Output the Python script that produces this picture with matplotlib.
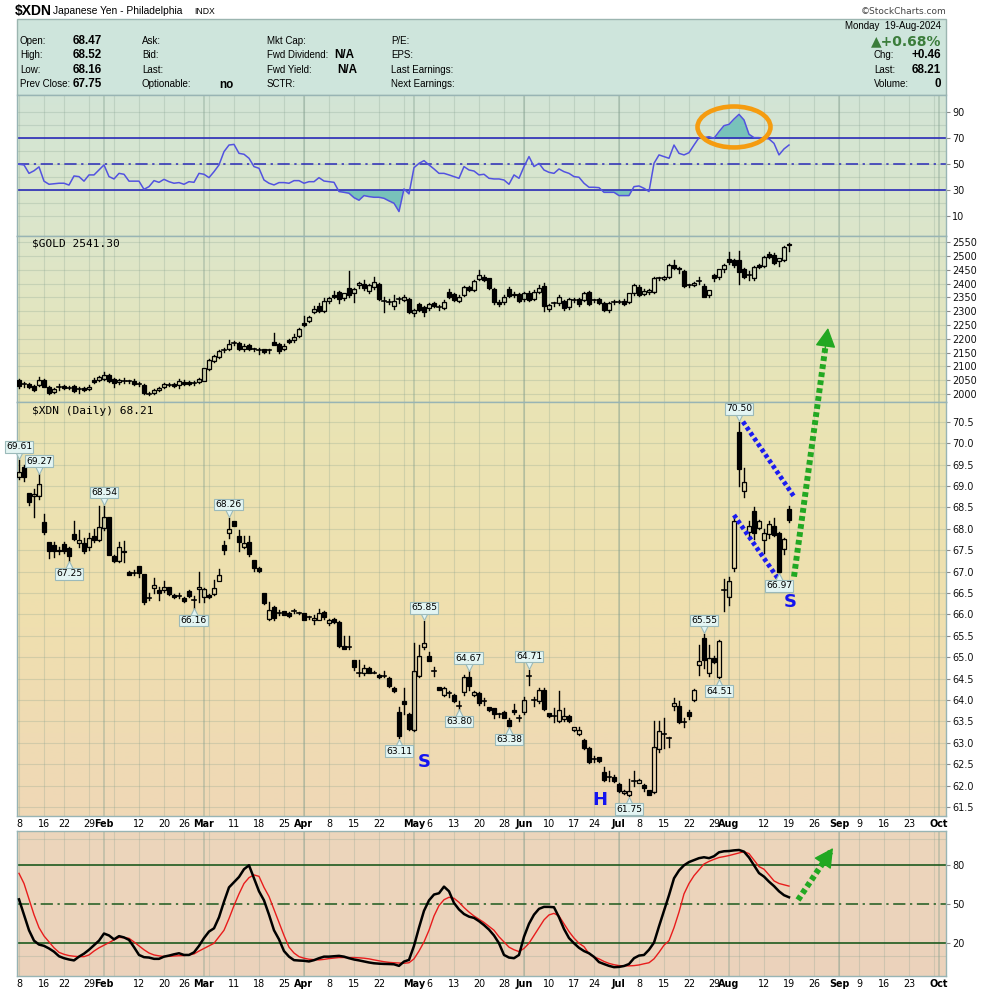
import numpy as np
import pandas as pd
import matplotlib
matplotlib.use('Agg')
import matplotlib.pyplot as plt
from matplotlib.patches import Rectangle, Ellipse
from matplotlib.colors import to_rgb
from matplotlib.transforms import offset_copy

plt.rcParams['font.family'] = ['DejaVu Sans']

# trading calendar (NYSE holidays skipped)
holidays = pd.to_datetime(['2024-01-15', '2024-02-19', '2024-03-29', '2024-05-27',
                           '2024-06-19', '2024-07-04', '2024-09-02'])
days = pd.bdate_range('2024-01-08', '2024-10-04')
days = days[~days.isin(holidays)]

tick_dates = ['2024-01-08', '2024-01-16', '2024-01-22', '2024-01-29', '2024-02-01', '2024-02-12',
              '2024-02-20', '2024-02-26', '2024-03-01', '2024-03-11', '2024-03-18', '2024-03-25',
              '2024-04-01', '2024-04-08', '2024-04-15', '2024-04-22', '2024-05-01', '2024-05-06',
              '2024-05-13', '2024-05-20', '2024-05-28', '2024-06-03', '2024-06-10', '2024-06-17',
              '2024-06-24', '2024-07-01', '2024-07-08', '2024-07-15', '2024-07-22', '2024-07-29',
              '2024-08-01', '2024-08-12', '2024-08-19', '2024-08-26', '2024-09-03', '2024-09-09',
              '2024-09-16', '2024-09-23', '2024-10-01']
tick_text = ['8', '16', '22', '29', 'Feb', '12', '20', '26', 'Mar', '11', '18', '25',
             'Apr', '8', '15', '22', 'May', '6', '13', '20', '28', 'Jun', '10', '17',
             '24', 'Jul', '8', '15', '22', '29', 'Aug', '12', '19', '26', 'Sep', '9',
             '16', '23', 'Oct']

# $XDN daily candles, Jan 8 - Aug 19 2024
xdn_open = [69.20, 69.44, 68.83, 68.77, 68.77, 68.15, 67.68, 67.62, 67.51, 67.65,
            67.54, 67.87, 67.66, 67.66, 67.57, 67.82, 67.74, 68.01, 68.27, 67.37,
            67.24, 67.48, 67.00, 66.97, 67.12, 66.95, 66.38, 66.61, 66.56, 66.56,
            66.65, 66.46, 66.43, 66.39, 66.55, 66.34, 66.60, 66.40, 66.46, 66.47,
            66.79, 67.62, 67.89, 68.17, 67.82, 67.57, 67.68, 67.26, 67.09, 66.49,
            65.90, 66.17, 66.03, 66.07, 66.04, 66.09, 66.03, 66.03, 65.93, 65.87,
            65.87, 66.05, 65.79, 65.88, 65.83, 65.26, 65.25, 64.94, 64.63, 64.64,
            64.74, 64.64, 64.59, 64.56, 64.51, 64.28, 63.72, 63.98, 63.68, 63.29,
            64.56, 65.23, 65.02, 64.69, 64.30, 64.12, 64.16, 64.12, 63.87, 64.18,
            64.53, 64.11, 64.16, 63.98, 63.83, 63.81, 63.67, 63.73, 63.54, 63.77,
            63.58, 63.71, 64.55, 64.00, 63.98, 64.24, 63.69, 63.62, 63.50, 63.55,
            63.63, 63.30, 63.21, 63.07, 62.88, 62.62, 62.66, 62.31, 62.21, 62.21,
            62.04, 61.83, 61.78, 62.10, 62.06, 62.02, 61.89, 61.84, 62.85, 63.21,
            63.11, 63.85, 63.87, 63.48, 63.72, 64.01, 64.81, 65.44, 64.64, 64.98,
            64.53, 66.57, 66.40, 67.08, 70.25, 68.88, 67.92, 68.42, 68.01, 67.74,
            67.87, 68.07, 67.91, 67.52, 68.47]
xdn_high = [69.61, 69.49, 68.84, 68.92, 69.27, 68.35, 67.70, 67.70, 67.58, 67.70,
            67.58, 68.18, 67.97, 67.78, 67.89, 67.99, 68.52, 68.54, 68.28, 67.38,
            67.68, 67.71, 67.01, 67.04, 67.14, 66.95, 66.49, 66.84, 66.63, 66.77,
            66.65, 66.47, 66.51, 66.41, 66.56, 66.42, 67.00, 66.61, 66.48, 66.81,
            67.06, 67.72, 68.26, 68.17, 67.97, 67.82, 67.82, 67.27, 67.10, 66.51,
            66.30, 66.20, 66.10, 66.08, 66.05, 66.12, 66.05, 66.04, 65.97, 65.99,
            66.12, 66.07, 65.89, 65.92, 65.85, 65.50, 65.50, 64.94, 64.94, 64.82,
            64.76, 64.67, 64.60, 64.67, 64.53, 64.30, 63.83, 64.28, 63.70, 65.33,
            65.29, 65.85, 65.13, 64.78, 64.31, 64.30, 64.20, 64.13, 63.97, 64.59,
            64.67, 64.20, 64.18, 64.04, 63.84, 63.81, 63.70, 63.74, 63.58, 63.91,
            63.65, 64.08, 64.71, 64.07, 64.28, 64.27, 63.70, 63.81, 64.20, 63.81,
            63.65, 63.38, 63.38, 63.09, 62.89, 62.70, 62.67, 62.43, 62.33, 62.24,
            62.06, 61.90, 62.15, 62.33, 62.16, 62.04, 61.90, 63.50, 63.52, 63.58,
            63.13, 64.04, 63.97, 63.58, 63.77, 64.25, 65.29, 65.55, 65.29, 65.02,
            65.39, 66.83, 66.87, 68.24, 70.50, 69.41, 68.17, 68.50, 68.21, 67.99,
            68.19, 68.24, 67.93, 67.78, 68.52]
xdn_low = [69.16, 69.12, 68.56, 68.28, 68.69, 67.88, 67.31, 67.35, 67.41, 67.43,
           67.25, 67.74, 67.58, 67.44, 67.51, 67.70, 67.72, 67.96, 67.38, 67.23,
           67.22, 67.23, 66.91, 66.91, 66.88, 66.24, 66.34, 66.49, 66.34, 66.53,
           66.46, 66.39, 66.38, 66.28, 66.41, 66.16, 66.30, 66.30, 66.38, 66.46,
           66.77, 67.41, 67.78, 68.06, 67.47, 67.55, 67.37, 67.02, 67.00, 66.24,
           65.87, 65.87, 65.99, 65.98, 65.93, 66.03, 66.01, 65.86, 65.89, 65.78,
           65.86, 65.90, 65.76, 65.80, 65.23, 65.19, 65.19, 64.70, 64.56, 64.59,
           64.62, 64.62, 64.52, 64.53, 64.31, 64.19, 63.11, 63.68, 63.30, 63.27,
           64.53, 65.19, 64.90, 64.57, 64.23, 64.10, 64.08, 63.95, 63.80, 64.12,
           64.24, 64.10, 63.89, 63.89, 63.75, 63.58, 63.60, 63.58, 63.38, 63.68,
           63.50, 63.68, 64.36, 63.85, 63.93, 63.77, 63.61, 63.48, 63.48, 63.51,
           63.48, 63.28, 63.19, 62.86, 62.53, 62.54, 62.56, 62.10, 62.10, 62.08,
           61.84, 61.80, 61.75, 61.98, 62.05, 61.87, 61.78, 61.83, 62.78, 62.88,
           62.90, 63.76, 63.46, 63.37, 63.56, 63.97, 64.59, 64.74, 64.56, 64.86,
           64.51, 66.07, 66.22, 67.02, 69.00, 68.75, 67.82, 67.75, 67.99, 67.43,
           67.78, 67.82, 66.97, 67.41, 68.16]
xdn_close = [69.33, 69.20, 68.63, 68.80, 69.04, 67.92, 67.47, 67.47, 67.48, 67.49,
             67.37, 67.77, 67.74, 67.47, 67.78, 67.74, 68.05, 68.27, 67.39, 67.24,
             67.58, 67.45, 66.92, 66.96, 66.96, 66.28, 66.38, 66.69, 66.51, 66.63,
             66.48, 66.40, 66.43, 66.32, 66.42, 66.34, 66.65, 66.59, 66.40, 66.61,
             66.92, 67.51, 67.99, 68.07, 67.68, 67.66, 67.41, 67.09, 67.02, 66.26,
             66.09, 65.91, 66.02, 65.99, 65.95, 66.08, 66.02, 65.87, 65.94, 65.91,
             66.04, 65.93, 65.86, 65.83, 65.25, 65.20, 65.24, 64.78, 64.63, 64.74,
             64.63, 64.64, 64.53, 64.56, 64.33, 64.20, 63.15, 63.91, 63.32, 64.67,
             65.03, 65.33, 64.92, 64.68, 64.24, 64.28, 64.16, 63.97, 63.87, 64.53,
             64.32, 64.18, 63.94, 63.98, 63.76, 63.68, 63.67, 63.59, 63.40, 63.71,
             63.58, 63.99, 64.55, 64.00, 64.24, 63.79, 63.62, 63.62, 63.77, 63.62,
             63.51, 63.37, 63.30, 62.88, 62.55, 62.62, 62.57, 62.12, 62.20, 62.10,
             61.87, 61.88, 61.87, 62.10, 62.14, 61.94, 61.79, 62.90, 63.27, 63.21,
             63.11, 63.93, 63.48, 63.48, 63.62, 64.24, 64.90, 64.94, 64.98, 64.88,
             65.37, 66.57, 66.79, 68.19, 69.39, 69.08, 68.07, 67.89, 68.17, 67.89,
             68.10, 67.86, 66.99, 67.75, 68.21]

# $GOLD daily candles
gold_open = [2051, 2040, 2035, 2029, 2033, 2051, 2027, 2006, 2025, 2029,
             2024, 2029, 2017, 2021, 2018, 2051, 2051, 2054, 2069, 2054,
             2042, 2050, 2048, 2048, 2038, 2033, 2003, 2002, 2014, 2024,
             2034, 2036, 2033, 2045, 2045, 2040, 2045, 2048, 2091, 2121,
             2135, 2158, 2163, 2185, 2184, 2162, 2178, 2163, 2161, 2162,
             2158, 2187, 2181, 2163, 2196, 2196, 2212, 2256, 2266, 2296,
             2319, 2302, 2337, 2359, 2369, 2347, 2383, 2365, 2395, 2398,
             2373, 2389, 2398, 2337, 2335, 2320, 2345, 2341, 2343, 2292,
             2326, 2314, 2311, 2329, 2314, 2313, 2369, 2361, 2337, 2359,
             2389, 2377, 2417, 2425, 2419, 2380, 2335, 2332, 2380, 2362,
             2363, 2344, 2365, 2344, 2371, 2393, 2308, 2328, 2329, 2337,
             2314, 2341, 2344, 2341, 2369, 2341, 2344, 2329, 2305, 2333,
             2335, 2338, 2335, 2365, 2389, 2363, 2369, 2371, 2419, 2417,
             2425, 2468, 2458, 2446, 2395, 2395, 2410, 2393, 2359, 2431,
             2425, 2453, 2490, 2486, 2486, 2453, 2431, 2419, 2468, 2465,
             2506, 2504, 2483, 2486, 2545]
gold_high = [2053, 2045, 2040, 2034, 2062, 2054, 2030, 2021, 2037, 2033,
             2030, 2032, 2027, 2025, 2032, 2058, 2066, 2078, 2073, 2057,
             2054, 2058, 2052, 2053, 2042, 2036, 2008, 2018, 2027, 2040,
             2040, 2039, 2054, 2049, 2048, 2046, 2058, 2096, 2126, 2141,
             2160, 2168, 2196, 2194, 2188, 2180, 2181, 2168, 2168, 2165,
             2164, 2220, 2184, 2180, 2200, 2216, 2240, 2283, 2282, 2318,
             2330, 2347, 2352, 2372, 2373, 2368, 2446, 2383, 2405, 2413,
             2398, 2425, 2401, 2353, 2345, 2358, 2352, 2360, 2347, 2308,
             2330, 2318, 2330, 2335, 2322, 2340, 2381, 2365, 2358, 2393,
             2393, 2414, 2450, 2430, 2422, 2384, 2340, 2358, 2388, 2370,
             2367, 2370, 2372, 2376, 2396, 2402, 2328, 2334, 2358, 2341,
             2349, 2348, 2348, 2370, 2373, 2346, 2349, 2333, 2334, 2340,
             2342, 2343, 2368, 2400, 2394, 2380, 2382, 2424, 2424, 2428,
             2472, 2485, 2462, 2450, 2400, 2405, 2425, 2398, 2378, 2437,
             2455, 2471, 2516, 2490, 2518, 2458, 2446, 2466, 2472, 2502,
             2516, 2510, 2495, 2535, 2549]
gold_low = [2022, 2026, 2022, 2011, 2030, 2024, 2001, 2003, 2014, 2017,
            2018, 2009, 2003, 2012, 2015, 2040, 2048, 2050, 2044, 2027,
            2038, 2040, 2040, 2032, 2030, 2000, 1997, 1999, 2011, 2021,
            2028, 2026, 2020, 2033, 2032, 2033, 2041, 2046, 2088, 2117,
            2131, 2152, 2160, 2178, 2158, 2157, 2158, 2156, 2144, 2150,
            2150, 2176, 2150, 2158, 2184, 2189, 2208, 2246, 2262, 2293,
            2298, 2299, 2330, 2349, 2331, 2340, 2352, 2335, 2385, 2378,
            2365, 2382, 2340, 2298, 2326, 2310, 2330, 2336, 2292, 2284,
            2300, 2283, 2306, 2316, 2305, 2309, 2348, 2336, 2333, 2355,
            2372, 2372, 2413, 2408, 2381, 2326, 2320, 2325, 2352, 2350,
            2333, 2338, 2336, 2340, 2366, 2300, 2301, 2318, 2322, 2306,
            2310, 2335, 2318, 2336, 2321, 2333, 2325, 2300, 2299, 2328,
            2330, 2323, 2330, 2360, 2354, 2360, 2364, 2366, 2412, 2412,
            2420, 2452, 2438, 2388, 2388, 2390, 2398, 2350, 2353, 2409,
            2418, 2443, 2470, 2461, 2398, 2420, 2414, 2415, 2458, 2460,
            2494, 2470, 2463, 2482, 2519]
gold_close = [2030, 2038, 2027, 2014, 2051, 2027, 2005, 2018, 2027, 2021,
              2023, 2012, 2018, 2015, 2027, 2043, 2063, 2069, 2047, 2039,
              2051, 2048, 2046, 2035, 2036, 2002, 2001, 2014, 2023, 2036,
              2033, 2029, 2047, 2036, 2035, 2039, 2054, 2093, 2123, 2138,
              2156, 2160, 2180, 2186, 2163, 2175, 2163, 2162, 2160, 2154,
              2160, 2178, 2156, 2175, 2187, 2208, 2236, 2250, 2278, 2310,
              2302, 2338, 2347, 2352, 2344, 2365, 2359, 2381, 2401, 2383,
              2395, 2407, 2343, 2337, 2335, 2338, 2345, 2353, 2298, 2304,
              2304, 2298, 2326, 2320, 2314, 2335, 2353, 2341, 2353, 2389,
              2377, 2411, 2431, 2413, 2386, 2332, 2325, 2353, 2357, 2359,
              2338, 2365, 2341, 2371, 2386, 2320, 2323, 2329, 2353, 2313,
              2344, 2341, 2325, 2365, 2325, 2341, 2329, 2305, 2329, 2335,
              2335, 2326, 2365, 2395, 2359, 2373, 2377, 2419, 2419, 2425,
              2468, 2456, 2453, 2393, 2395, 2401, 2410, 2353, 2377, 2419,
              2452, 2468, 2477, 2468, 2444, 2425, 2431, 2462, 2462, 2498,
              2498, 2474, 2492, 2532, 2541.3]

# RSI of $XDN
rsi = [50, 49.5, 43, 45, 48, 37, 34.6, 35, 35.4, 35.4,
       34, 41, 40.5, 37, 41.8, 41.8, 45.6, 49.5, 40.5, 38.7,
       43, 42.3, 37, 37, 37, 30.7, 32.8, 37.4, 36.1, 38.4,
       36.6, 35.4, 35.9, 34.6, 36.6, 36.1, 43, 42.3, 39.7, 44.3,
       49.5, 59.7, 64.8, 65.3, 58.4, 57.7, 54.6, 48.2, 46.9, 37.9,
       35.4, 34.1, 35.9, 35.9, 35.4, 37.4, 37.4, 35.4, 36.6, 36.6,
       39.7, 37.1, 36.6, 36.1, 29, 28.4, 27.7, 24.3, 22.3, 25.9,
       25.1, 24.6, 24.6, 23.8, 21.8, 20, 13.6, 31, 27.2, 47.4,
       50.7, 52.8, 49.5, 46.4, 43, 43, 41.8, 40.5, 39.2, 48.2,
       45.6, 44.8, 41.8, 42.3, 39.2, 38.7, 38.7, 37.9, 34.6, 41.8,
       39.2, 48.2, 55.9, 48.2, 50.7, 45.6, 43.8, 43, 46.4, 44.3,
       43, 40.5, 40, 35.4, 32.3, 32.3, 32, 28.4, 28.4, 28.4,
       25.9, 25.9, 25.9, 32.8, 33.3, 31.5, 29, 50.7, 57.2, 55.9,
       54.6, 64.8, 58.4, 57.2, 58.9, 64.8, 70.5, 70.5, 71.2, 70,
       75.1, 79.7, 80.7, 84.8, 88.4, 84.1, 73.1, 70.5, 70.5, 70,
       69.5, 66.1, 57.2, 61.8, 64.8]

# slow stochastic %K (black) and %D (red)
stoch_k = [53.8, 42, 30, 22, 19, 18, 16, 13.5, 10, 8.5,
           7.5, 6.8, 9.7, 12, 15, 18.5, 22, 27.5, 26, 23,
           25.5, 24.5, 22.6, 17, 11, 9.3, 9, 8, 8, 9.7,
           10.5, 11.5, 12.3, 11, 11, 13, 18, 24, 29, 31.5,
           40, 52, 63, 67, 71, 77, 80, 70, 60, 53,
           42, 30, 23, 14, 9.7, 7, 6.7, 6.5, 6, 7,
           8.5, 9.7, 9.7, 10, 10.3, 9.7, 8.5, 7.5, 6.8, 6,
           5.2, 4.6, 4.3, 4.1, 4, 3.8, 2.6, 5.9, 7.2, 18,
           32, 45, 53, 57.5, 58.5, 63.6, 60, 51, 46, 42.5,
           40.5, 39.5, 37, 34, 30.5, 26, 20, 11, 9, 8.5,
           11, 25, 35, 42, 46.5, 48, 48, 47.7, 40, 31,
           24, 20, 16.5, 14, 12.3, 9.5, 5.5, 4, 2.6, 1.6,
           1.8, 2.5, 4, 8.5, 10.5, 11, 15, 20.5, 33, 45,
           57, 70, 76, 80, 82.5, 84, 85.5, 86.2, 85.5, 87,
           90, 90.8, 91, 91.5, 91.8, 90.5, 86, 80, 74, 71.3,
           67.4, 64, 60, 57, 55.4]
stoch_d = [73.8, 66, 54, 42, 32, 25.6, 21, 16.5, 13, 11.5,
           10.5, 10, 9.7, 9.7, 11, 14, 16.5, 18.5, 20.5, 22.6,
           24.5, 24.3, 23.8, 21, 18, 15, 12.5, 11, 10.3, 9.8,
           9.9, 10.2, 10.4, 10.5, 11, 11.8, 14, 16, 18, 20,
           25, 30, 39, 49, 58, 66, 70.5, 72.6, 71.5, 63,
           56, 46, 36, 26, 17, 12.5, 9.7, 8.5, 7.7, 7.4,
           7.2, 7.6, 8.2, 8.6, 9, 9, 9, 9, 8.8, 8.5,
           8, 7.2, 6.5, 5.8, 5.3, 5, 4.8, 4.6, 5, 8,
           14, 21, 30, 41, 49, 53.5, 55.4, 54.6, 51.5, 47.5,
           44, 41, 38.5, 36, 33, 30, 25, 21, 17, 15,
           13.6, 16, 20, 26, 32, 38, 41.8, 43, 41, 35,
           29, 24, 20, 17.4, 12, 9.5, 8, 6, 4.5, 3.5,
           2.8, 2.6, 2.6, 2.8, 3.3, 4.2, 5, 8, 13, 18.5,
           22, 32, 44, 58, 66, 72, 76.5, 81, 83, 84.6,
           86, 86.7, 87.5, 88.5, 89.5, 90.5, 89, 84, 79, 77,
           72.6, 68, 66, 65, 64]

callout_days = [0, 4, 10, 17, 35, 42, 76, 81, 88, 90, 98, 102, 122, 137, 140, 144, 152]
callout_kind = ['high', 'high', 'low', 'high', 'low', 'high', 'low', 'high', 'low',
                'high', 'low', 'high', 'low', 'high', 'low', 'high', 'low']

# ---------------------------------------------------------------
W_PX, H_PX = 990, 992
X0_PX, X1_PX = 17, 946
XLIM = (-0.4, 185.4)

fig = plt.figure(figsize=(9.9, 9.92), dpi=100)
fig.patch.set_facecolor('white')

bg_y = [17, 236, 402, 600, 816, 831, 976]
bg_c = ['#cde4dc', '#dce6ca', '#e9e4b5', '#efe0ae', '#efd8b6', '#edd6bb', '#ebd2bc']
bg_rgb = np.array([to_rgb(c) for c in bg_c])

n = len(xdn_close)
xs = np.arange(n)
tick_pos = [days.get_loc(pd.Timestamp(d)) for d in tick_dates]
idx = pd.Series(np.arange(len(days)), index=days)
iso = days.isocalendar()
week_pos = sorted(set(idx.groupby([iso.year.values, iso.week.values]).min()))
month_pos = [p for p in sorted(set(idx.groupby(days.month).min())) if p > 0]

def panel(top, bot, ylim):
    ax = fig.add_axes([X0_PX / W_PX, 1 - bot / H_PX, (X1_PX - X0_PX) / W_PX, (bot - top) / H_PX])
    ys = np.linspace(top, bot, 80)
    img = np.stack([np.interp(ys, bg_y, bg_rgb[:, k]) for k in range(3)], axis=-1)[:, None, :]
    ax.imshow(img, extent=(XLIM[0], XLIM[1], ylim[0], ylim[1]), aspect='auto',
              origin='upper', zorder=0, interpolation='bilinear')
    ax.set_xlim(*XLIM)
    ax.set_ylim(*ylim)
    for p in week_pos:
        ax.axvline(p, color='#7f9c8c', alpha=0.25, lw=0.8, zorder=0.5)
    for p in month_pos:
        ax.axvline(p, color='#7f9c8c', alpha=0.45, lw=1.1, zorder=0.5)
    for s in ax.spines.values():
        s.set_color('#98b4b4')
        s.set_linewidth(1)
    ax.yaxis.tick_right()
    ax.tick_params(axis='y', direction='out', length=3, width=0.8, color='#8a8a8a',
                   labelsize=7, pad=1.5, labelcolor='#111111')
    ax.set_xticks([])
    return ax

def hgrid(ax, levels):
    for v in levels:
        ax.axhline(v, color='#7f9c8c', alpha=0.25, lw=0.8, zorder=0.5)

def date_labels(ax):
    ax.set_xticks(tick_pos)
    ax.set_xticklabels(tick_text, fontsize=6.9)
    ax.tick_params(axis='x', length=0, pad=2.5)
    for lab in ax.get_xticklabels():
        if lab.get_text().isalpha():
            lab.set_fontweight('bold')

def candles(ax, o, h, l, c, doji, width=0.72):
    for i in range(len(c)):
        top, bot = max(o[i], c[i]), min(o[i], c[i])
        ax.plot([i, i], [top, h[i]], color='k', lw=1, zorder=3)
        ax.plot([i, i], [l[i], bot], color='k', lw=1, zorder=3)
        if top - bot < doji:
            ax.plot([i - width / 2, i + width / 2], [c[i], c[i]], color='k', lw=1.2, zorder=3)
        else:
            face = 'black' if c[i] < o[i] else 'none'
            ax.add_patch(Rectangle((i - width / 2, bot), width, top - bot, facecolor=face,
                                   edgecolor='k', lw=0.9, zorder=3))

def dotted_arrow(ax, start, tip, color):
    sx, sy = start
    tx, ty = tip
    ex, ey = sx + 0.93 * (tx - sx), sy + 0.93 * (ty - sy)
    ax.plot([sx, ex], [sy, ey], color=color, lw=4.3, ls=(0, (0.8, 0.55)),
            dash_capstyle='butt', clip_on=False, zorder=6)
    hx_, hy_ = sx + 0.9 * (tx - sx), sy + 0.9 * (ty - sy)
    ax.annotate('', xy=tip, xytext=(hx_, hy_),
                arrowprops=dict(arrowstyle='-|>,head_length=0.75,head_width=0.4', color=color,
                                lw=1, shrinkA=0, shrinkB=0, mutation_scale=16),
                annotation_clip=False, zorder=7)

# ---------------- header ----------------
hx = fig.add_axes([0, 1 - 95 / H_PX, 1, 95 / H_PX])
hx.set_xlim(0, W_PX)
hx.set_ylim(95, 0)
hx.axis('off')
hx.add_patch(Rectangle((17, 19), 929, 76, facecolor='#cee5dc', edgecolor='#9bb5b0', lw=1))
hx.text(15, 11, '$XDN', fontsize=10, fontweight='bold', va='center', family='Liberation Sans')
hx.text(53, 11, 'Japanese Yen - Philadelphia', fontsize=7.4, va='center', family='Liberation Sans')
hx.text(194, 11.5, 'INDX', fontsize=6.2, va='center', family='Liberation Sans')
hx.text(946, 11, '\u00a9StockCharts.com', fontsize=6.5, va='center', ha='right', color='#444444')

hf = dict(fontsize=7.0, va='center', family='Liberation Sans')
hb = dict(fontsize=8.4, va='center', fontweight='bold', family='Liberation Sans')
rows = [41, 55, 70, 84]
for y, lab, val in zip(rows, ['Open:', 'High:', 'Low:', 'Prev Close:'], ['68.47', '68.52', '68.16', '67.75']):
    hx.text(20, y, lab, **hf)
    hx.text(73, y, val, **hb)
for y, lab in zip(rows, ['Ask:', 'Bid:', 'Last:', 'Optionable:']):
    hx.text(142, y, lab, **hf)
hx.text(219, 85, 'no', **hb)
for y, lab in zip(rows, ['Mkt Cap:', 'Fwd Dividend:', 'Fwd Yield:', 'SCTR:']):
    hx.text(267, y, lab, **hf)
hx.text(334, 55, 'N/A', **hb)
hx.text(337, 70, 'N/A', **hb)
for y, lab in zip(rows, ['P/E:', 'EPS:', 'Last Earnings:', 'Next Earnings:']):
    hx.text(391, y, lab, **hf)
hx.text(941, 26, 'Monday  19-Aug-2024', ha='right', **hf)
hx.text(941, 41, '\u25b2+0.68%', ha='right', va='center', fontsize=10, fontweight='bold', color='#3b7d3b')
for y, lab, val in zip(rows[1:], ['Chg:', 'Last:', 'Volume:'], ['+0.46', '68.21', '0']):
    hx.text(874, y, lab, **hf)
    hx.text(941, y, val, ha='right', **hb)

# ---------------- RSI ----------------
ax1 = panel(95, 236, (-5.2, 103.3))
hgrid(ax1, range(10, 100, 10))
ax1.set_yticks([10, 30, 50, 70, 90])
r = np.array(rsi)
ax1.fill_between(xs, r, 70, where=r >= 70, interpolate=True, color='#78c2ba', zorder=2, lw=0)
ax1.fill_between(xs, r, 30, where=r <= 30, interpolate=True, color='#78c2ba', zorder=2, lw=0)
ax1.axhline(70, color='#2b2bb8', lw=1.2, zorder=2.5)
ax1.axhline(30, color='#2b2bb8', lw=1.2, zorder=2.5)
ax1.axhline(50, color='#2b2bb8', lw=1.1, ls=(0, (8, 3, 1.5, 3)), zorder=2.5)
ax1.plot(xs, r, color='#5252e0', lw=1.1, zorder=3)
ax1.add_patch(Ellipse((143, 78.7), 14.6, 31.5, fill=False, edgecolor='#f59c10', lw=3.3,
                      zorder=5, clip_on=False))

# ---------------- GOLD ----------------
ax2 = panel(236, 402, (1971, 2573))
hgrid(ax2, range(2000, 2551, 50))
ax2.set_yticks(range(2000, 2551, 50))
candles(ax2, gold_open, gold_high, gold_low, gold_close, doji=2.5)
ax2.annotate('$GOLD 2541.30', xy=(0, 1), xycoords='axes fraction', xytext=(15, -7),
             textcoords='offset pixels', va='center', fontsize=8, family='DejaVu Sans Mono')

# ---------------- XDN ----------------
ax3 = panel(402, 816, (61.29, 70.96))
hgrid(ax3, np.arange(61.5, 70.51, 0.5))
ax3.set_yticks(np.arange(61.5, 70.51, 0.5))
ax3.set_yticklabels([f'{v:.1f}' for v in np.arange(61.5, 70.51, 0.5)])
candles(ax3, xdn_open, xdn_high, xdn_low, xdn_close, doji=0.015)
date_labels(ax3)
ax3.annotate('$XDN (Daily) 68.21', xy=(0, 1), xycoords='axes fraction', xytext=(15, -9),
             textcoords='offset pixels', va='center', fontsize=8, family='DejaVu Sans Mono')

box = dict(boxstyle='square,pad=0.15', fc='#e3f5f3', ec='#9bbaba', lw=0.8)
for i, kind in zip(callout_days, callout_kind):
    if kind == 'high':
        val, sgn, va, mk = xdn_high[i], 1, 'bottom', 'v'
    else:
        val, sgn, va, mk = xdn_low[i], -1, 'top', '^'
    tri = offset_copy(ax3.transData, fig=fig, x=0, y=sgn * 4.5, units='dots')
    ax3.plot(i, val, marker=mk, ms=5.5, mfc='#e3f5f3', mec='#9bbaba', mew=0.8,
             transform=tri, clip_on=False, zorder=6)
    ax3.annotate(f'{val:.2f}', xy=(i, val), xytext=(0, sgn * 8.5), textcoords='offset pixels',
                 ha='center', va=va, fontsize=6.6, bbox=box, zorder=7, annotation_clip=False)

blue = '#1c1cf0'
ax3.plot([144.8, 155], [70.5, 68.75], color=blue, lw=3.4, ls=(0, (0.8, 0.6)), zorder=5)
ax3.plot([143, 152.2], [68.32, 66.77], color=blue, lw=3.4, ls=(0, (0.8, 0.6)), zorder=5)
green = '#22a822'
dotted_arrow(ax3, (155, 66.88), (161.8, 72.69), green)
letter = dict(color='#1414f0', fontsize=13, fontweight='bold', ha='center', va='center', zorder=6)
ax3.text(81, 62.56, 'S', **letter)
ax3.text(116.2, 61.67, 'H', **letter)
ax3.text(154.2, 66.29, 'S', **letter)

# ---------------- stochastics ----------------
ax4 = panel(831, 976, (-5.2, 106.4))
hgrid(ax4, [10, 100])
ax4.set_yticks([20, 50, 80])
ax4.axhline(80, color='#1e5a1e', lw=1.2, zorder=2)
ax4.axhline(20, color='#1e5a1e', lw=1.2, zorder=2)
ax4.axhline(50, color='#1e5a1e', lw=1.1, ls=(0, (8, 3, 1.5, 3)), zorder=2)
ax4.plot(xs, stoch_d, color='#e81c1c', lw=1, zorder=3)
ax4.plot(xs, stoch_k, color='black', lw=1.8, zorder=4)
date_labels(ax4)
dotted_arrow(ax4, (155.8, 53.3), (162.8, 93.3), green)

fig.savefig('out.png', dpi=100)
